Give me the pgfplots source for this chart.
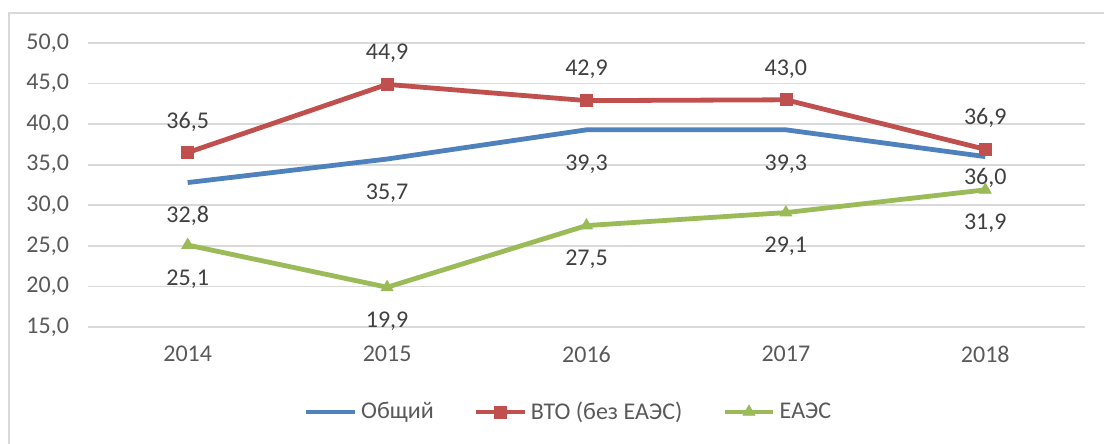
\documentclass[border=0pt]{standalone}
\usepackage{fontspec}
\setmainfont{Carlito}
\usepackage{pgfplots}
\pgfplotsset{compat=1.18}
\definecolor{cblue}{HTML}{4F81BD}
\definecolor{cred}{HTML}{C0504D}
\definecolor{cgreen}{HTML}{9BBB59}
\definecolor{cgrid}{HTML}{D9D9D9}
\definecolor{ctext}{HTML}{595959}
\definecolor{clab}{HTML}{404040}
\begin{document}
\begin{tikzpicture}
\useasboundingbox (-44pt,-58.5pt) rectangle (508pt,163.5pt);
\draw[cgrid, line width=0.8pt] (-39.5pt,-70pt) -- (-39.5pt,157pt) -- (520pt,157pt);
\begin{axis}[
  scale only axis,
  width=498.5pt, height=142pt,
  xmin=-0.5, xmax=4.5,
  ymin=15, ymax=50,
  ytick={15,20,...,50},
  xtick={0,1,2,3,4},
  xticklabels={2014,2015,2016,2017,2018},
  axis line style={draw=none},
  ymajorgrids,
  grid style={cgrid, line width=0.8pt},
  major tick length=0pt,
  tick label style={font=\fontsize{12}{14}\selectfont, text=ctext},
  /pgf/number format/assume math mode=true,
  yticklabel={\pgfmathprintnumber[fixed,fixed zerofill,precision=1,use comma]{\tick}},
  yticklabel style={xshift=-6pt},
  xticklabel style={yshift=-6pt},
  legend style={at={(0.483,-0.299)}, anchor=center, draw=none, fill=none,
    legend columns=3, font=\fontsize{12}{14}\selectfont, text=ctext,
    /tikz/every even column/.append style={column sep=18pt}},
  legend image code/.code={
    \draw[#1, mark=none] (0cm,0cm) -- (0.85cm,0cm);
    \draw[#1, only marks] plot coordinates {(0.425cm,0cm)};
  },
  nodes near coords,
  nodes near coords style={font=\fontsize{12}{14}\selectfont, text=clab,
    /pgf/number format/fixed, /pgf/number format/fixed zerofill,
    /pgf/number format/precision=1, /pgf/number format/use comma},
  visualization depends on={\thisrow{dy} \as \dy},
  every node near coord/.append style={anchor=center, yshift=\dy pt},
  clip=false,
]
\draw[cgrid, line width=0.8pt] (rel axis cs:0,0) -- (rel axis cs:1,0);
\addplot[cblue, line width=2.4pt, mark=none] table[x=x, y=y] {
x y dy
0 32.8 -16.5
1 35.7 -17
2 39.3 -17
3 39.3 -17
4 36.0 -10.5
};
\addlegendentry{Общий}
\addplot[cred, line width=2.4pt, mark=square*, mark size=3pt, mark options={line width=0.4pt}] table[x=x, y=y] {
x y dy
0 36.5 15.5
1 44.9 15.5
2 42.9 15.5
3 43.0 15.5
4 36.9 15.5
};
\addlegendentry{ВТО (без ЕАЭС)}
\addplot[cgreen, line width=2.4pt, mark=triangle*, mark size=3.4pt, mark options={line width=0.4pt}] table[x=x, y=y] {
x y dy
0 25.1 -17
1 19.9 -17
2 27.5 -17
3 29.1 -17
4 31.9 -16.5
};
\addlegendentry{ЕАЭС}
\end{axis}
\end{tikzpicture}
\end{document}
